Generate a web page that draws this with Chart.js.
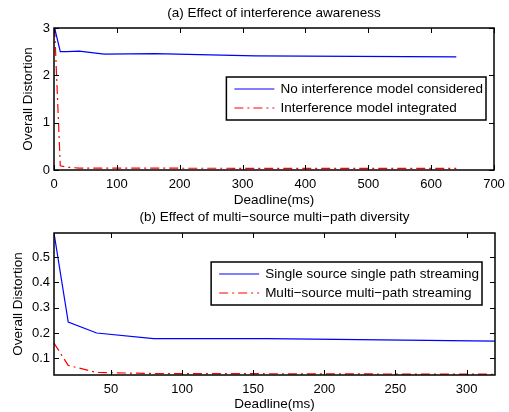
<!DOCTYPE html>
<html lang="en">
<head>
<meta charset="UTF-8">
<title>Deadline vs Overall Distortion</title>
<script src="https://cdn.jsdelivr.net/npm/chart.js"></script>
<style>
  body { margin: 0; background: #fff; }
  .panel { position: absolute; left: 0; width: 509px; }
</style>
</head>
<body>
<div class="panel" style="top:0; height:208px"><canvas id="chartA"></canvas></div>
<div class="panel" style="top:206px; height:206px"><canvas id="chartB"></canvas></div>

<script>
// (a) effect of interference awareness
const deadlineA = [1, 10, 20, 40, 80, 160, 320, 640];
const noInterference = [3.0, 2.50, 2.50, 2.51, 2.45, 2.46, 2.41, 2.39];
const withInterference = [3.0, 0.09, 0.06, 0.04, 0.04, 0.038, 0.036, 0.036];
const xTicksA = [0, 100, 200, 300, 400, 500, 600, 700];
const yTicksA = [0, 1, 2, 3];

// (b) effect of multi-source multi-path diversity
const deadlineB = [10, 20, 40, 80, 160, 320];
const singlePath = [0.595, 0.243, 0.200, 0.178, 0.178, 0.168];
const multiPath = [0.160, 0.072, 0.044, 0.040, 0.039, 0.037];
const xTicksB = [50, 100, 150, 200, 250, 300];
const yTicksB = [0.1, 0.2, 0.3, 0.4, 0.5];

const FONT = '"Liberation Sans", Arial, Helvetica, sans-serif';
const TEXT_SIZE = 13.5;
Chart.defaults.font.family = FONT;
Chart.defaults.font.size = 13;
Chart.defaults.color = '#000';

// box around the axes with inward tick marks on all four sides
const frame = {
    id: 'frame',
    afterDatasetsDraw(chart) {
        const { ctx, chartArea: a, scales } = chart;
        ctx.save();
        ctx.strokeStyle = '#000';
        ctx.lineWidth = 1;
        ctx.beginPath();
        scales.x.ticks.forEach(t => {
            const px = Math.round(scales.x.getPixelForValue(t.value)) + 0.5;
            ctx.moveTo(px, a.bottom); ctx.lineTo(px, a.bottom - 5);
            ctx.moveTo(px, a.top); ctx.lineTo(px, a.top + 5);
        });
        scales.y.ticks.forEach(t => {
            const py = Math.round(scales.y.getPixelForValue(t.value)) + 0.5;
            ctx.moveTo(a.left, py); ctx.lineTo(a.left + 5, py);
            ctx.moveTo(a.right, py); ctx.lineTo(a.right - 5, py);
        });
        ctx.stroke();
        ctx.lineWidth = 1.5;
        ctx.strokeRect(a.left, a.top, a.right - a.left, a.bottom - a.top);
        ctx.restore();
    }
};

// matlab-like legend box inside the plot area
const boxLegend = {
    id: 'boxLegend',
    afterDraw(chart, args, opts) {
        const { ctx, chartArea: a } = chart;
        const sets = chart.data.datasets;
        ctx.save();
        ctx.font = TEXT_SIZE + 'px ' + FONT;
        const textW = Math.max(...sets.map(d => ctx.measureText(d.label).width));
        const w = 54 + textW + 3, h = 43;
        const x = a.right - opts.right - w, y = a.top + opts.top;
        ctx.fillStyle = '#fff';
        ctx.fillRect(x, y, w, h);
        ctx.strokeStyle = '#000';
        ctx.lineWidth = 1.5;
        ctx.strokeRect(x, y, w, h);
        sets.forEach((d, i) => {
            const ly = y + 12 + i * 19;
            ctx.beginPath();
            ctx.setLineDash(d.borderDash || []);
            ctx.strokeStyle = d.borderColor;
            ctx.lineWidth = d.borderWidth;
            ctx.moveTo(x + 8, ly);
            ctx.lineTo(x + 48, ly);
            ctx.stroke();
            ctx.setLineDash([]);
            ctx.fillStyle = '#000';
            ctx.textBaseline = 'middle';
            ctx.fillText(d.label, x + 54, ly);
        });
        ctx.restore();
    }
};

function makeChart(id, cfg) {
    const xTicks = cfg.xTicks, yTicks = cfg.yTicks;
    return new Chart(document.getElementById(id), {
        type: 'line',
        data: {
            datasets: cfg.series.map(s => ({
                label: s.label,
                data: s.y.map((v, i) => ({ x: s.x[i], y: v })),
                borderColor: s.color,
                borderWidth: 1.2,
                borderDash: s.dash,
                pointRadius: 0,
                tension: 0,
                fill: false
            }))
        },
        options: {
            responsive: true,
            maintainAspectRatio: false,
            animation: false,
            layout: { padding: cfg.padding },
            plugins: {
                legend: { display: false },
                tooltip: { enabled: false },
                title: {
                    display: true,
                    text: cfg.title,
                    fullSize: false,
                    font: { size: TEXT_SIZE, weight: 'normal' },
                    padding: cfg.titlePad
                },
                boxLegend: cfg.legend
            },
            scales: {
                x: {
                    type: 'linear',
                    min: cfg.xMin, max: cfg.xMax,
                    afterBuildTicks: s => { s.ticks = xTicks.map(v => ({ value: v })); },
                    afterFit: s => { s.height = cfg.xHeight; s.paddingLeft = 0; s.paddingRight = 0; },
                    grid: { display: false, drawTicks: false },
                    border: { display: false },
                    ticks: { padding: 7, maxRotation: 0, autoSkip: false },
                    title: { display: true, text: 'Deadline(ms)', padding: 0, font: { size: TEXT_SIZE } }
                },
                y: {
                    min: cfg.yMin, max: cfg.yMax,
                    afterBuildTicks: s => { s.ticks = yTicks.map(v => ({ value: v })); },
                    afterFit: s => { s.width = cfg.yWidth; s.paddingTop = 0; s.paddingBottom = 0; },
                    grid: { display: false, drawTicks: false },
                    border: { display: false },
                    ticks: { padding: 4, autoSkip: false },
                    title: { display: true, text: 'Overall Distortion', padding: 0, font: { size: TEXT_SIZE } }
                }
            }
        },
        plugins: [frame, boxLegend]
    });
}

makeChart('chartA', {
    title: '(a) Effect of interference awareness',
    titlePad: { top: 5, bottom: 6.8 },
    padding: { left: 20, right: 15, top: 0, bottom: 0 },
    xMin: 0, xMax: 700, yMin: 0, yMax: 3,
    xTicks: xTicksA, yTicks: yTicksA,
    xHeight: 38, yWidth: 34,
    legend: { right: 8, top: 49 },
    series: [
        { label: 'No interference model considered', x: deadlineA, y: noInterference, color: '#0000ff' },
        { label: 'Interference model integrated', x: deadlineA, y: withInterference, color: '#ff0000', dash: [9, 4, 2, 4] }
    ]
});

makeChart('chartB', {
    title: '(b) Effect of multi\u2212source multi\u2212path diversity',
    titlePad: { top: 3.2, bottom: 7.6 },
    padding: { left: 10, right: 14, top: 0, bottom: 0 },
    xMin: 10, xMax: 320, yMin: 0.034, yMax: 0.595,
    xTicks: xTicksB, yTicks: yTicksB,
    xHeight: 37, yWidth: 44,
    legend: { right: 13, top: 29 },
    series: [
        { label: 'Single source single path streaming', x: deadlineB, y: singlePath, color: '#0000ff' },
        { label: 'Multi\u2212source multi\u2212path streaming', x: deadlineB, y: multiPath, color: '#ff0000', dash: [9, 4, 2, 4] }
    ]
});
</script>
</body>
</html>
